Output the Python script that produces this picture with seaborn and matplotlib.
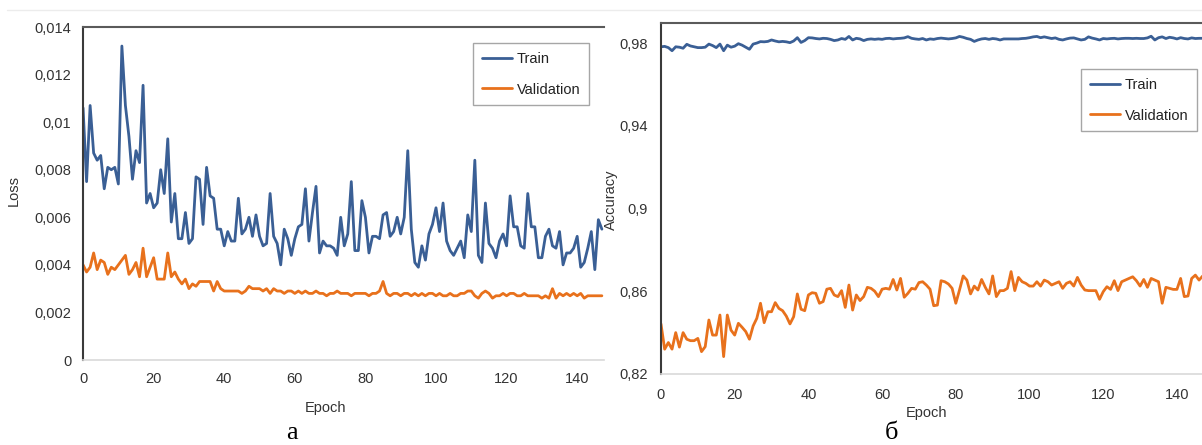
import numpy as np
import pandas as pd
import matplotlib
matplotlib.use("Agg")
import matplotlib.pyplot as plt
from matplotlib.ticker import FixedLocator, FuncFormatter
from matplotlib.lines import Line2D
import seaborn as sns

# values
train_loss = [
    0.0106, 0.0075, 0.0107, 0.0087, 0.0084, 0.0086, 0.0072, 0.0081, 0.0080, 0.0081,
    0.0074, 0.0132, 0.0107, 0.0094, 0.0076, 0.0088, 0.0083, 0.01155, 0.0066, 0.0070,
    0.0064, 0.0066, 0.0080, 0.0070, 0.0093, 0.0058, 0.0070, 0.0051, 0.0051, 0.0062,
    0.0049, 0.0051, 0.0077, 0.0076, 0.0057, 0.0081, 0.0069, 0.0068, 0.0055, 0.0055,
    0.0048, 0.0054, 0.0050, 0.0050, 0.0068, 0.0053, 0.0055, 0.0060, 0.0052, 0.0061,
    0.0052, 0.0048, 0.0049, 0.0070, 0.0052, 0.0049, 0.0040, 0.0055, 0.0051, 0.0044,
    0.0051, 0.0056, 0.0057, 0.0072, 0.0050, 0.0062, 0.0073, 0.0045, 0.0050, 0.0048,
    0.0048, 0.0047, 0.0044, 0.0060, 0.0048, 0.0053, 0.0075, 0.0046, 0.0046, 0.0067,
    0.0060, 0.0045, 0.0052, 0.0052, 0.0051, 0.0061, 0.0062, 0.0052, 0.0054, 0.0060,
    0.0053, 0.0060, 0.0088, 0.0055, 0.0041, 0.0039, 0.0048, 0.0042, 0.0053, 0.0057,
    0.0064, 0.0054, 0.0066, 0.0050, 0.0046, 0.0044, 0.0047, 0.0050, 0.0043, 0.0061,
    0.0054, 0.0084, 0.0044, 0.0041, 0.0066, 0.0049, 0.0047, 0.0043, 0.0050, 0.0053,
    0.0048, 0.0069, 0.0056, 0.0056, 0.0048, 0.0047, 0.0070, 0.0056, 0.0056, 0.0043,
    0.0043, 0.0052, 0.0055, 0.0048, 0.0047, 0.0054, 0.0040, 0.0045, 0.0045, 0.0047,
    0.0052, 0.0039, 0.0041, 0.0047, 0.0054, 0.0038, 0.0059, 0.0055,
]
val_loss = [
    0.0040, 0.0037, 0.0039, 0.0045, 0.0038, 0.0042, 0.0041, 0.0036, 0.0039, 0.0038,
    0.0040, 0.0042, 0.0044, 0.0036, 0.0038, 0.0041, 0.0035, 0.0047, 0.0035, 0.0039,
    0.0043, 0.0034, 0.0034, 0.0034, 0.0045, 0.0035, 0.0037, 0.0034, 0.0032, 0.0034,
    0.0030, 0.0032, 0.0031, 0.0033, 0.0033, 0.0033, 0.0033, 0.0029, 0.0033, 0.0030,
    0.0029, 0.0029, 0.0029, 0.0029, 0.0029, 0.0028, 0.0029, 0.0031, 0.0030, 0.0030,
    0.0030, 0.0029, 0.0030, 0.0028, 0.0030, 0.0029, 0.0029, 0.0028, 0.0029, 0.0029,
    0.0028, 0.0029, 0.0028, 0.0029, 0.0028, 0.0028, 0.0029, 0.0028, 0.0028, 0.0027,
    0.0028, 0.0028, 0.0029, 0.0028, 0.0028, 0.0028, 0.0027, 0.0028, 0.0028, 0.0028,
    0.0028, 0.0027, 0.0028, 0.0028, 0.0029, 0.0033, 0.0028, 0.0027, 0.0028, 0.0028,
    0.0027, 0.0028, 0.0028, 0.0027, 0.0028, 0.0027, 0.0028, 0.0027, 0.0028, 0.0028,
    0.0027, 0.0028, 0.0027, 0.0027, 0.0028, 0.0027, 0.0027, 0.0028, 0.0028, 0.0029,
    0.0029, 0.0027, 0.0026, 0.0028, 0.0029, 0.0028, 0.0026, 0.0027, 0.0027, 0.0028,
    0.0027, 0.0028, 0.0028, 0.0027, 0.0027, 0.0028, 0.0027, 0.0027, 0.0027, 0.0027,
    0.0026, 0.0027, 0.0026, 0.0030, 0.0026, 0.0028, 0.0027, 0.0028, 0.0027, 0.0028,
    0.0027, 0.0028, 0.0026, 0.0027, 0.0027, 0.0027, 0.0027, 0.0027,
]
train_acc = [
    0.9782, 0.9784, 0.9778, 0.9763, 0.9782, 0.9780, 0.9775, 0.9794, 0.9786, 0.9782,
    0.9778, 0.9778, 0.9780, 0.9795, 0.9788, 0.9778, 0.9795, 0.9763, 0.9790, 0.9780,
    0.9785, 0.9797, 0.9790, 0.9780, 0.9770, 0.9795, 0.9800, 0.9807, 0.9806, 0.9808,
    0.9815, 0.9810, 0.9806, 0.9808, 0.9806, 0.9802, 0.9810, 0.9826, 0.9803, 0.9812,
    0.9826, 0.9825, 0.9822, 0.9820, 0.9823, 0.9822, 0.9818, 0.9812, 0.9815, 0.9822,
    0.9818, 0.9832, 0.9815, 0.9823, 0.9820, 0.9812, 0.9818, 0.9820, 0.9818, 0.9820,
    0.9818, 0.9822, 0.9823, 0.9820, 0.9822, 0.9823, 0.9825, 0.9831, 0.9823, 0.9820,
    0.9818, 0.9822, 0.9815, 0.9820, 0.9818, 0.9822, 0.9824, 0.9822, 0.9820, 0.9822,
    0.9825, 0.9832, 0.9828, 0.9822, 0.9818, 0.9808, 0.9815, 0.9820, 0.9822, 0.9818,
    0.9822, 0.9820, 0.9815, 0.9820, 0.9820, 0.9820, 0.9820, 0.9820, 0.9822, 0.9823,
    0.9826, 0.9830, 0.9832, 0.9826, 0.9830, 0.9826, 0.9822, 0.9825, 0.9818, 0.9815,
    0.9820, 0.9824, 0.9825, 0.9820, 0.9815, 0.9818, 0.9830, 0.9824, 0.9820, 0.9815,
    0.9822, 0.9820, 0.9822, 0.9823, 0.9820, 0.9822, 0.9823, 0.9823, 0.9822, 0.9823,
    0.9822, 0.9822, 0.9825, 0.9833, 0.9815, 0.9826, 0.9830, 0.9822, 0.9828, 0.9825,
    0.9820, 0.9826, 0.9822, 0.9820, 0.9825, 0.9822, 0.9823, 0.9823,
]
val_acc = [
    0.8442, 0.8320, 0.8352, 0.8320, 0.8400, 0.8330, 0.8400, 0.8368, 0.8361, 0.8361,
    0.8372, 0.8308, 0.8332, 0.8461, 0.8388, 0.8388, 0.8485, 0.8284, 0.8485, 0.8412,
    0.8388, 0.8445, 0.8426, 0.8405, 0.8368, 0.8432, 0.8469, 0.8542, 0.8448, 0.8501,
    0.8501, 0.8545, 0.8517, 0.8506, 0.8480, 0.8442, 0.8477, 0.8587, 0.8513, 0.8506,
    0.8582, 0.8593, 0.8590, 0.8542, 0.8550, 0.8610, 0.8614, 0.8582, 0.8574, 0.8603,
    0.8522, 0.8630, 0.8509, 0.8582, 0.8555, 0.8574, 0.8619, 0.8614, 0.8600, 0.8574,
    0.8610, 0.8614, 0.8610, 0.8657, 0.8606, 0.8662, 0.8571, 0.8590, 0.8614, 0.8610,
    0.8642, 0.8646, 0.8630, 0.8610, 0.8530, 0.8533, 0.8651, 0.8646, 0.8635, 0.8614,
    0.8542, 0.8606, 0.8674, 0.8654, 0.8587, 0.8625, 0.8606, 0.8657, 0.8619, 0.8587,
    0.8674, 0.8574, 0.8603, 0.8603, 0.8614, 0.8695, 0.8603, 0.8667, 0.8646, 0.8638,
    0.8625, 0.8625, 0.8646, 0.8625, 0.8654, 0.8646, 0.8630, 0.8638, 0.8646, 0.8614,
    0.8638, 0.8646, 0.8625, 0.8667, 0.8630, 0.8606, 0.8603, 0.8603, 0.8603, 0.8561,
    0.8598, 0.8622, 0.8609, 0.8651, 0.8603, 0.8646, 0.8654, 0.8662, 0.8670, 0.8651,
    0.8625, 0.8657, 0.8619, 0.8662, 0.8654, 0.8646, 0.8542, 0.8619, 0.8614, 0.8609,
    0.8609, 0.8662, 0.8574, 0.8577, 0.8662, 0.8678, 0.8654, 0.8674,
]

loss_ticks = [0, 0.002, 0.004, 0.006, 0.008, 0.01, 0.012, 0.014]
acc_ticks = [0.82, 0.86, 0.9, 0.94, 0.98]
epoch_ticks = [0, 20, 40, 60, 80, 100, 120, 140]

series_names = ["Train", "Validation"]
colors = {"Train": "#3A5F95", "Validation": "#E8711C"}


def long_frame(train, val, col):
    a = pd.DataFrame({"Epoch": np.arange(len(train)), col: train, "series": "Train"})
    b = pd.DataFrame({"Epoch": np.arange(len(val)), col: val, "series": "Validation"})
    return pd.concat([a, b], ignore_index=True)


loss_df = long_frame(train_loss, val_loss, "Loss")
acc_df = long_frame(train_acc, val_acc, "Accuracy")

sns.set_theme(style="white")
plt.rcParams["font.family"] = ["Liberation Sans", "DejaVu Sans"]

comma = FuncFormatter(lambda v, p: f"{v:g}".replace(".", ","))

fig = plt.figure(figsize=(12.02, 4.45), dpi=100)
ax1 = fig.add_axes([0.0691, 0.191, 0.4334, 0.7483])
ax2 = fig.add_axes([0.5499, 0.1596, 0.4501, 0.7887])

# faint page line at the top
fig.add_artist(Line2D([0.006, 1.0], [0.978, 0.978], color="#ececec", lw=1))

sns.lineplot(data=loss_df, x="Epoch", y="Loss", hue="series", hue_order=series_names,
             palette=colors, lw=2.0, ax=ax1)
sns.lineplot(data=acc_df, x="Epoch", y="Accuracy", hue="series", hue_order=series_names,
             palette=colors, lw=2.0, ax=ax2)

ax1.set_xlim(0, 147.6)
ax1.set_ylim(0, 0.014)
ax2.set_xlim(0, 146.8)
ax2.set_ylim(0.82, 0.9897)

ax1.yaxis.set_major_locator(FixedLocator(loss_ticks))
ax2.yaxis.set_major_locator(FixedLocator(acc_ticks))
for ax in (ax1, ax2):
    ax.xaxis.set_major_locator(FixedLocator(epoch_ticks))
    ax.yaxis.set_major_formatter(comma)
    ax.tick_params(axis="both", length=0, labelsize=10.5, labelcolor="#333333")
    ax.spines["left"].set_color("#3a3a3a")
    ax.spines["left"].set_linewidth(1.5)
    ax.spines["top"].set_color("#5a5a5a")
    ax.spines["top"].set_linewidth(1.5)
    ax.spines["bottom"].set_color("#d9d9d9")
    ax.spines["bottom"].set_linewidth(1.2)
    ax.spines["right"].set_visible(False)
    ax.grid(False)

ax1.tick_params(axis="y", pad=8.5)
ax1.tick_params(axis="x", pad=8.5)
ax2.tick_params(axis="y", pad=9.5)
ax2.tick_params(axis="x", pad=10)

ax1.set_xlabel("Epoch", fontsize=10.5, color="#333333")
ax1.set_ylabel("Loss", fontsize=10.5, color="#333333")
ax2.set_xlabel("Epoch", fontsize=10.5, color="#333333")
ax2.set_ylabel("Accuracy", fontsize=10.5, color="#333333")
ax1.xaxis.set_label_coords(0.466, -0.123)
ax1.yaxis.set_label_coords(-0.119, 0.51)
ax2.xaxis.set_label_coords(0.4917, -0.091)
ax2.yaxis.set_label_coords(-0.080, 0.495)

leg_kw = dict(frameon=True, fancybox=False, framealpha=1, edgecolor="#a6a6a6",
              fontsize=10.5, handlelength=2.1, handletextpad=0.3, labelspacing=1.15,
              borderpad=0.6, borderaxespad=0, loc="upper right", title=None)
l1 = ax1.legend(bbox_to_anchor=(0.971, 0.952), **leg_kw)
l2 = ax2.legend(bbox_to_anchor=(0.9908, 0.869), **leg_kw)
for leg in (l1, l2):
    leg.get_frame().set_linewidth(1.0)
    for t in leg.get_texts():
        t.set_color("#222222")

fig.text(0.2425, 0.014, "а", fontsize=19, family=["Liberation Serif", "DejaVu Serif"],
         ha="center", va="baseline", color="black")
fig.text(0.742, 0.014, "б", fontsize=19, family=["Liberation Serif", "DejaVu Serif"],
         ha="center", va="baseline", color="black")

fig.savefig("out.png", dpi=100)
